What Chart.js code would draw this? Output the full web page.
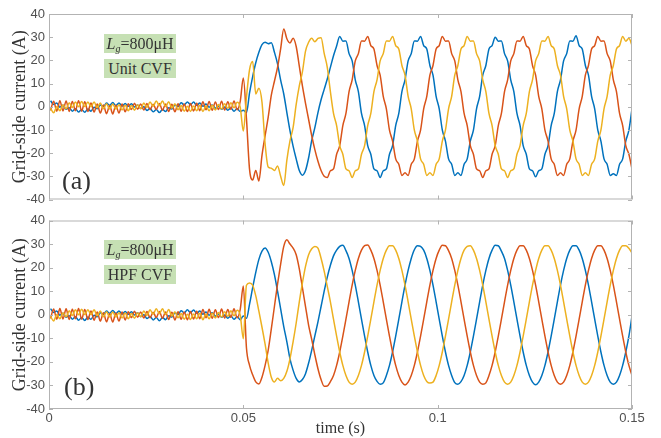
<!DOCTYPE html>
<html>
<head>
<meta charset="utf-8">
<script src="https://cdn.jsdelivr.net/npm/chart.js@4.4.0/dist/chart.umd.min.js"></script>
<style>
  body { margin: 0; background: #fff; }
  #wrap { position: relative; width: 661px; height: 438px; overflow: hidden; }
  canvas { position: absolute; left: 0; }
  .tag {
    position: absolute; left: 104px; width: 72px; height: 19px;
    background: #c6e0b4; color: #333;
    font-family: "Liberation Serif", serif; font-size: 16px; line-height: 19px;
    text-align: center; white-space: nowrap;
  }
  .tag sub { font-size: 10px; vertical-align: -3px; line-height: 0; }
  .panel {
    position: absolute; color: #333;
    font-family: "Liberation Serif", serif; font-size: 26px; line-height: 26px;
  }
</style>
</head>
<body>
<div id="wrap">
  <canvas id="plotA" width="661" height="210" style="top:0px"></canvas>
  <canvas id="plotB" width="661" height="228" style="top:210px"></canvas>
  <div class="tag" style="top:34px"><i>L</i><sub><i>g</i></sub>=800μH</div>
  <div class="tag" style="top:59px">Unit CVF</div>
  <div class="panel" style="left:62px; top:168px">(a)</div>
  <div class="tag" style="top:240px"><i>L</i><sub><i>g</i></sub>=800μH</div>
  <div class="tag" style="top:265px">HPF CVF</div>
  <div class="panel" style="left:64px; top:374px">(b)</div>
</div>
<script>
// samples every 0.8 ms starting at 0.4 ms (0.05 s and 0.15 s fall on the grid)
const sampleStart = 0.0004;
const sampleStep = 0.0008;

const xTickValues = [0, 0.05, 0.1, 0.15];
const xTickLabels = ['0', '0.05', '0.1', '0.15'];
const yTickValues = [-40, -30, -20, -10, 0, 10, 20, 30, 40];

// before the step at 0.05 s (same in both panels)
const preBlue = [2.6,1.0,1.6,-0.2,0.6,-1.1,-0.4,-1.9,-0.9,-2.3,
  -1.2,-2.4,-1.0,-1.9,-0.2,-0.9,0.8,0.1,1.6,0.6,
  1.8,0.5,1.6,0.3,1.4,0.2,1.3,-0.1,0.8,-0.8,
  0.0,-1.6,-0.7,-2.2,-1.2,-2.5,-1.2,-2.1,-0.4,-1.0,
  0.8,0.1,1.7,0.8,2.1,0.9,2.0,0.6,1.6,0.2,
  1.2,-0.2,0.8,-0.6,0.3,-1.1,-0.1,-1.5,-0.5,-1.9,
  -0.8,-2.1];
const preRed = [-1.6,2.4,-1.9,2.6,-1.8,2.5,-2.0,2.3,-1.7,2.6,-1.9,2.2,-2.0,
  1.6,-2.3,1.2,-2.7,0.8,-3.0,0.5,-3.1,0.7,-2.7,1.2,-2.2,
  1.3,-1.2,1.5,-1.1,1.2,-1.4,1.4,-1.3,1.1,-1.2,1.4,-1.5,1.2,
  -2.0,1.1,-2.2,1.3,-1.9,1.2,-2.1,1.4,-1.8,1.5,-1.7,
  2.2,-1.3,2.3,-1.5,2.1,-1.2,2.4,-1.4,2.2,-1.1,2.5,-1.3,2.3];
const preYellow = [-0.7,-2.6,0.1,-1.7,0.9,-0.9,1.7,-0.3,2.1,0.0,
  2.3,0.1,2.1,0.1,2.1,-0.4,1.6,-0.9,1.3,-1.0,
  1.2,-1.0,0.9,-1.4,0.7,-1.7,0.5,-1.5,0.9,-0.9,
  1.6,-0.3,2.1,0.2,2.5,0.4,2.5,0.1,2.2,-0.5,
  1.3,-1.3,0.5,-1.9,0.2,-2.0,0.3,-1.7,0.6,-2.1,
  0.3,-1.7,0.6,-1.4,1.0,-1.0,1.3,-0.7,1.7,-0.4,
  1.9,-0.2];

// (a) Unit CVF, from 0.05 s to 0.15 s
const aBlue = [-1.5,-2.5,6,13,19,23.5,26.8,27.8,27.2,27.6,
  23.5,18.5,11.5,5.5,-2.5,-10.3,-17,-22.5,-27.5,-29.5,
  -27.5,-22,-14.5,-9,-2.5,3,7.5,12,17,22,26.2,
  30.3,28.3,28.4,22.9,19.8,11.6,6.5,-2.9,-8.1,-16.8,
  -20.5,-26.8,-27.6,-30.5,-27.6,-26.8,-20.5,-16.8,-8.1,-2.9,
  6.5,11.6,19.8,22.9,28.4,28.3,30.3,26.4,24.9,17.8,
  13.6,4.5,-0.9,-10.1,-14.8,-22.5,-24.8,-29.6,-28.5,-29.6,
  -24.8,-22.5,-14.8,-10.1,-0.9,4.5,13.6,17.8,24.9,26.4,
  30.0,28.3,28.4,22.9,19.8,11.6,6.5,-2.9,-8.1,-16.8,
  -20.5,-26.8,-27.6,-30.2,-27.6,-26.8,-20.5,-16.8,-8.1,-2.9,
  6.5,11.6,19.8,22.9,28.4,28.3,30.6,26.4,24.9,17.8,
  13.6,4.5,-0.9,-10.1,-14.8,-22.5,-24.8,-29.6,-28.9,-29.6,
  -24.8,-22.5,-14.8,-10.1,-0.9];
const aRed = [12.4,-5,-27,-31.6,-27.5,-32,-21,-12.5,-4.5,5,
  11,17,25,33.5,29.3,27.5,29.5,26,17.5,9,
  1.5,-5.5,-12.5,-18.5,-23.5,-27.5,-30,
  -30.5,-27.6,-26.8,-20.5,-16.8,-8.1,-2.9,6.5,11.6,19.8,
  22.9,28.4,28.3,30.3,26.4,24.9,17.8,13.6,4.5,-0.9,
  -10.1,-14.8,-22.5,-24.8,-29.6,-28.5,-29.6,-24.8,-22.5,-14.8,
  -10.1,-0.9,4.5,13.6,17.8,24.9,26.4,30.3,28.3,28.4,
  22.9,19.8,11.6,6.5,-2.9,-8.1,-16.8,-20.5,-26.8,-27.6,
  -30.5,-27.6,-26.8,
  -20.5,-16.8,-8.1,-2.9,6.5,11.6,19.8,22.9,28.4,28.3,
  30.3,26.4,24.9,17.8,13.6,4.5,-0.9,-10.1,-14.8,-22.5,
  -24.8,-29.6,-28.5,-29.6,-24.8,-22.5,-14.8,-10.1,-0.9,4.5,
  13.6,17.8,24.9,26.4,30.3,28.3,28.4,22.9,19.8,11.6,
  6.5,-2.9,-8.1,-16.8,-20.5,-26.8];
const aYellow = [-10.5,4,16,19.5,5.5,8,2,-16,-26,-26.5,
  -27.5,-25.5,-30,-34,-23,-14.7,-9,1,9,15,
  24,27.8,29.5,28,29.5,29.8,23,17,
  6.5,-2.9,-8.1,-16.8,-20.5,-26.8,-27.6,-30.5,-27.6,-26.8,
  -20.5,-16.8,-8.1,-2.9,6.5,11.6,19.8,22.9,28.4,28.3,
  30.3,26.4,24.9,17.8,13.6,4.5,-0.9,-10.1,-14.8,-22.5,
  -24.8,-29.6,-28.5,-29.6,-24.8,-22.5,-14.8,-10.1,-0.9,4.5,
  13.6,17.8,24.9,26.4,30.3,28.3,28.4,22.9,19.8,11.6,6.5,
  -2.9,-8.1,-16.8,-20.5,-26.8,-27.6,-30.5,-27.6,-26.8,-20.5,
  -16.8,-8.1,-2.9,6.5,11.6,19.8,22.9,28.4,28.3,30.3,
  26.4,24.9,17.8,13.6,4.5,-0.9,-10.1,-14.8,-22.5,-24.8,
  -29.6,-28.5,-29.6,-24.8,-22.5,-14.8,-10.1,-0.9,4.5,13.6,
  17.8,24.9,26.4,30.3,28.3,29.5,26.5];

// (b) HPF CVF, from 0.05 s to 0.15 s
const bBlue = [-0.5,-1.5,4.5,11.5,18,23.5,27,28.3,26.5,22.5,
  17,10,2.5,-5,-11.5,-18.7,-23.5,-27,-28.5,-27.5,
  -25,-20.5,-15,-9,-3,3.5,10,16,21,25,
  27.4,29.0,29.5,27.2,23.9,18.8,12.6,5.5,-1.9,-9.1,
  -15.8,-21.5,-25.8,-28.3,-29.5,-28.9,-25.8,-21.5,-15.8,-9.1,
  -1.9,5.5,12.6,18.8,23.9,27.6,29.3,29.0,27.4,23.9,
  18.8,12.6,5.5,-1.9,-9.1,-15.8,-21.5,-25.8,-28.8,-29.5,
  -28.4,-25.8,-21.5,-15.8,-9.1,
  -1.9,5.5,12.6,18.8,23.9,27.4,29.5,29.3,27.0,23.9,
  18.8,12.6,5.5,-1.9,-9.1,-15.8,-21.5,-25.8,-28.6,-29.7,
  -28.6,-25.8,-21.5,-15.8,-9.1,
  -1.9,5.5,12.6,18.8,23.9,27.4,29.3,29.3,27.4,23.9,
  18.8,12.6,5.5,-1.9,-9.1,-15.8,-21.5,-25.8,-28.6,-29.5,
  -28.6,-25.8,-21.5,-15.8,-9.1,-0.6];
const bRed = [12.2,-14,-21.5,-25.5,-28.5,-29.4,-26.5,-21.5,-15,-6,
  3.5,13,21.5,29,31.8,30,28.3,25.5,19.5,11.5,
  3.5,-4.5,-10.5,-17,-22.9,-27.5,-30.3,-30.2,-28.4,
  -25.8,-21.5,-15.8,-9.1,
  -1.9,5.5,12.6,18.8,23.9,27.4,29.3,29.6,27.4,23.9,
  18.8,12.6,5.5,-1.9,-9.1,-15.8,-21.5,-25.8,-28.6,-29.8,
  -28.6,-25.8,-21.5,-15.8,-9.1,
  -1.9,5.5,12.6,18.8,23.9,27.4,29.5,29.3,27.2,23.9,
  18.8,12.6,5.5,-1.9,-9.1,-15.8,-21.5,-25.8,-28.6,-29.5,
  -28.9,-25.8,-21.5,-15.8,-9.1,
  -1.9,5.5,12.6,18.8,23.9,27.4,29.3,29.3,27.4,23.9,
  18.8,12.6,5.5,-1.9,-9.1,-15.8,-21.5,-25.8,-28.6,-29.5,
  -28.6,-25.8,-21.5,-15.8,-9.1,
  -1.9,5.5,12.6,18.8,23.9,27.4,29.3,29.3,27.4,23.9,
  18.8,12.6,5.5,-1.9,-9.1,-15.8,-21.5,-25.8];
const bYellow = [-10.2,12.5,13.5,12.5,8,1.5,-5.3,-12.5,-20.5,-26.5,
  -28.5,-27,-28,-27,-24,-18.7,-11.5,-3.5,5.5,13.5,
  20.5,25.5,28,29,28.3,24,18.5,12,
  5.5,-1.9,-9.1,-15.8,-21.5,-25.8,-28.6,-29.5,-28.6,-25.8,
  -21.5,-15.8,-9.1,
  -1.9,5.5,12.6,18.8,23.9,27.4,29.3,29.3,27.4,23.9,
  18.8,12.6,5.5,-1.9,-9.1,-15.8,-21.5,-25.8,-28.3,-29.0,
  -28.6,-25.8,-21.5,-15.8,-9.1,
  -1.9,5.5,12.6,18.8,23.9,27.4,29.0,29.3,27.4,23.9,
  18.8,12.6,5.5,-1.9,-9.1,-15.8,-21.5,-25.8,-28.6,-29.5,
  -28.6,-25.8,-21.5,-15.8,-9.1,
  -1.9,5.5,12.6,18.8,23.9,27.4,29.3,29.3,27.4,23.9,
  18.8,12.6,5.5,-1.9,-9.1,-15.8,-21.5,-25.8,-28.6,-29.5,
  -28.6,-25.8,-21.5,-15.8,-9.1,
  -1.9,5.5,12.6,18.8,23.9,27.4,29.3,29.3,28.2,26.2];

const colBlue = '#0072BD', colRed = '#D95319', colYellow = '#EDB120';

function toPoints(values) {
  return values.map((v, i) => ({ x: sampleStart + i * sampleStep, y: v }));
}

function makeSet(values, color, order) {
  return {
    data: toPoints(values),
    borderColor: color,
    borderWidth: 1.5,
    pointRadius: 0,
    cubicInterpolationMode: 'monotone',
    fill: false,
    order: order
  };
}

// matlab style box with inward ticks
const frameTicks = {
  id: 'frameTicks',
  afterDatasetsDraw(chart) {
    const { ctx, chartArea: a, scales } = chart;
    const x = scales.x, y = scales.y;
    ctx.save();
    ctx.strokeStyle = '#b3b3b3';
    ctx.lineWidth = 1;
    ctx.strokeRect(a.left + 0.5, a.top + 0.5, a.right - a.left - 1, a.bottom - a.top - 1);
    ctx.beginPath();
    yTickValues.forEach(v => {
      const py = Math.round(y.getPixelForValue(v)) + 0.5;
      ctx.moveTo(a.left, py); ctx.lineTo(a.left + 4, py);
      ctx.moveTo(a.right, py); ctx.lineTo(a.right - 4, py);
    });
    xTickValues.forEach(v => {
      const px = Math.round(x.getPixelForValue(v)) + 0.5;
      ctx.moveTo(px, a.top); ctx.lineTo(px, a.top + 4);
      ctx.moveTo(px, a.bottom); ctx.lineTo(px, a.bottom - 4);
    });
    ctx.stroke();
    ctx.restore();
  }
};

function makeChart(canvasId, blue, red, yellow, showX, padTop, xHeight) {
  const ctx = document.getElementById(canvasId).getContext('2d');
  return new Chart(ctx, {
    type: 'line',
    data: {
      datasets: [
        makeSet(preBlue.concat(blue), colBlue, 3),
        makeSet(preRed.concat(red), colRed, 2),
        makeSet(preYellow.concat(yellow), colYellow, 1)
      ]
    },
    options: {
      responsive: false,
      animation: false,
      events: [],
      layout: { padding: { top: padTop, right: 29, left: 0, bottom: 0 } },
      plugins: { legend: { display: false }, tooltip: { enabled: false } },
      scales: {
        x: {
          type: 'linear',
          min: 0,
          max: 0.15,
          afterBuildTicks: s => { s.ticks = xTickValues.map(v => ({ value: v })); },
          afterFit: s => { s.height = xHeight; },
          grid: { display: false, drawTicks: false },
          border: { display: false },
          ticks: {
            display: showX,
            padding: 3,
            color: '#505050',
            maxRotation: 0,
            font: { family: 'Liberation Sans', size: 13, lineHeight: 1 },
            callback: (v, i) => xTickLabels[i]
          },
          title: {
            display: showX,
            text: 'time (s)',
            color: '#333',
            padding: { top: 0, bottom: 0 },
            font: { family: 'Liberation Serif', size: 16 }
          }
        },
        y: {
          min: -40,
          max: 40,
          afterFit: s => { s.width = 49; },
          grid: { display: false, drawTicks: false },
          border: { display: false },
          ticks: {
            stepSize: 10,
            padding: 4,
            color: '#505050',
            font: { family: 'Liberation Sans', size: 13, lineHeight: 1 }
          },
          title: {
            display: true,
            text: 'Grid-side current (A)',
            color: '#333',
            padding: { top: 9, bottom: 0 },
            font: { family: 'Liberation Serif', size: 18 }
          }
        }
      }
    },
    plugins: [frameTicks]
  });
}

makeChart('plotA', aBlue, aRed, aYellow, false, 14, 7);
makeChart('plotB', bBlue, bRed, bYellow, true, 9, 29);
</script>
</body>
</html>
